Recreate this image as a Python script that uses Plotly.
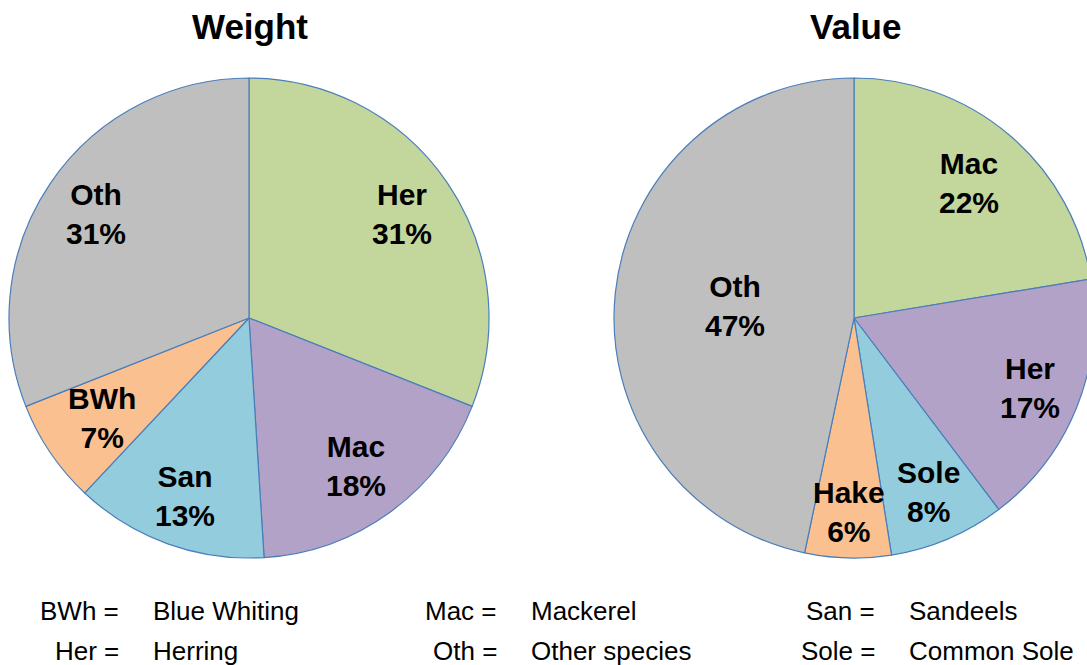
import math
import plotly.graph_objects as go

# ---- data ----
weight_labels = ["Her", "Mac", "San", "BWh", "Oth"]
weight_values = [31, 18, 13, 7, 31]

value_labels = ["Mac", "Her", "Sole", "Hake", "Oth"]
value_values = [22.4, 17.3, 7.8, 5.8, 46.7]

legend_abbr_col1 = ["BWh =", "Her ="]
legend_name_col1 = ["Blue Whiting", "Herring"]
legend_abbr_col2 = ["Mac =", "Oth ="]
legend_name_col2 = ["Mackerel", "Other species"]
legend_abbr_col3 = ["San =", "Sole ="]
legend_name_col3 = ["Sandeels", "Common Sole"]

# ---- styles ----
W, H = 1101, 665   # slightly wider than window: right pie is clipped as in the reference
slice_colors = ["#C3D69B", "#B3A2C7", "#93CDDD", "#FAC090", "#BFBFBF"]
line_col = "#4A7EBB"
FONT = "Liberation Sans, Arial, sans-serif"

left_dom_px = (9, 489, 78, 558)     # x0, x1, ytop, ybottom in px
right_dom_px = (614, 1094, 78, 558)
left_label_r = [0.77, 0.76, 0.79, 0.74, 0.77]
right_label_r = [0.74, 0.79, 0.79, 0.81, 0.50]


def dom(px):
    x0, x1, yt, yb = px
    return dict(x=[x0 / W, x1 / W], y=[1 - yb / H, 1 - yt / H])


fig = go.Figure()


def add_pie(labels, values, px, rfrac):
    d = dom(px)
    fig.add_trace(go.Pie(
        labels=labels, values=values, sort=False, direction="clockwise", rotation=0,
        marker=dict(colors=slice_colors, line=dict(color=line_col, width=1.2)),
        textinfo="none", hoverinfo="label+percent", domain=d, showlegend=False,
    ))
    # label annotations computed from the data (mid-angle of each slice)
    x0, x1, yt, yb = px
    R = min(x1 - x0, yb - yt) / 2
    cx = (x0 + x1) / 2
    cy = (yt + yb) / 2
    tot = sum(values)
    cum = 0
    for lab, v, rf in zip(labels, values, rfrac):
        mid = (cum + v / 2) / tot * 2 * math.pi
        cum += v
        xp = cx + rf * R * math.sin(mid)
        yp = cy - rf * R * math.cos(mid)
        pct = round(v / tot * 100)
        fig.add_annotation(x=xp / W, y=1 - yp / H, xref="paper", yref="paper",
                           text=f"<b>{lab}<br>{pct}%</b>", showarrow=False,
                           font=dict(family=FONT, size=30, color="black"),
                           align="center", xanchor="center", yanchor="middle")


add_pie(weight_labels, weight_values, left_dom_px, left_label_r)
add_pie(value_labels, value_values, right_dom_px, right_label_r)

# titles
for t, cx in (("Weight", 250), ("Value", 855)):
    fig.add_annotation(x=cx / W, y=1 - 26 / H, xref="paper", yref="paper", text=f"<b>{t}</b>",
                       showarrow=False, font=dict(family=FONT, size=35, color="black"),
                       xanchor="center", yanchor="middle")

# key text
rows_y = [611, 651]
cols = [(legend_abbr_col1, legend_name_col1, 121, 151),
        (legend_abbr_col2, legend_name_col2, 499, 529),
        (legend_abbr_col3, legend_name_col3, 877, 907)]
for abbrs, names, xa, xn in cols:
    for a, n, y in zip(abbrs, names, rows_y):
        fig.add_annotation(x=xa / W, y=1 - y / H, xref="paper", yref="paper", text=a,
                           showarrow=False, font=dict(family=FONT, size=26, color="black"),
                           xanchor="right", yanchor="middle")
        fig.add_annotation(x=xn / W, y=1 - y / H, xref="paper", yref="paper", text=n,
                           showarrow=False, font=dict(family=FONT, size=26, color="black"),
                           xanchor="left", yanchor="middle")

fig.update_layout(width=W, height=H, margin=dict(l=0, r=0, t=0, b=0),
                  paper_bgcolor="white", plot_bgcolor="white", showlegend=False)

fig.write_html("out.html", config={"displayModeBar": False},
               post_script="document.body.style.margin='0';document.body.style.overflow='hidden';"
                           "document.documentElement.style.overflow='hidden';")
